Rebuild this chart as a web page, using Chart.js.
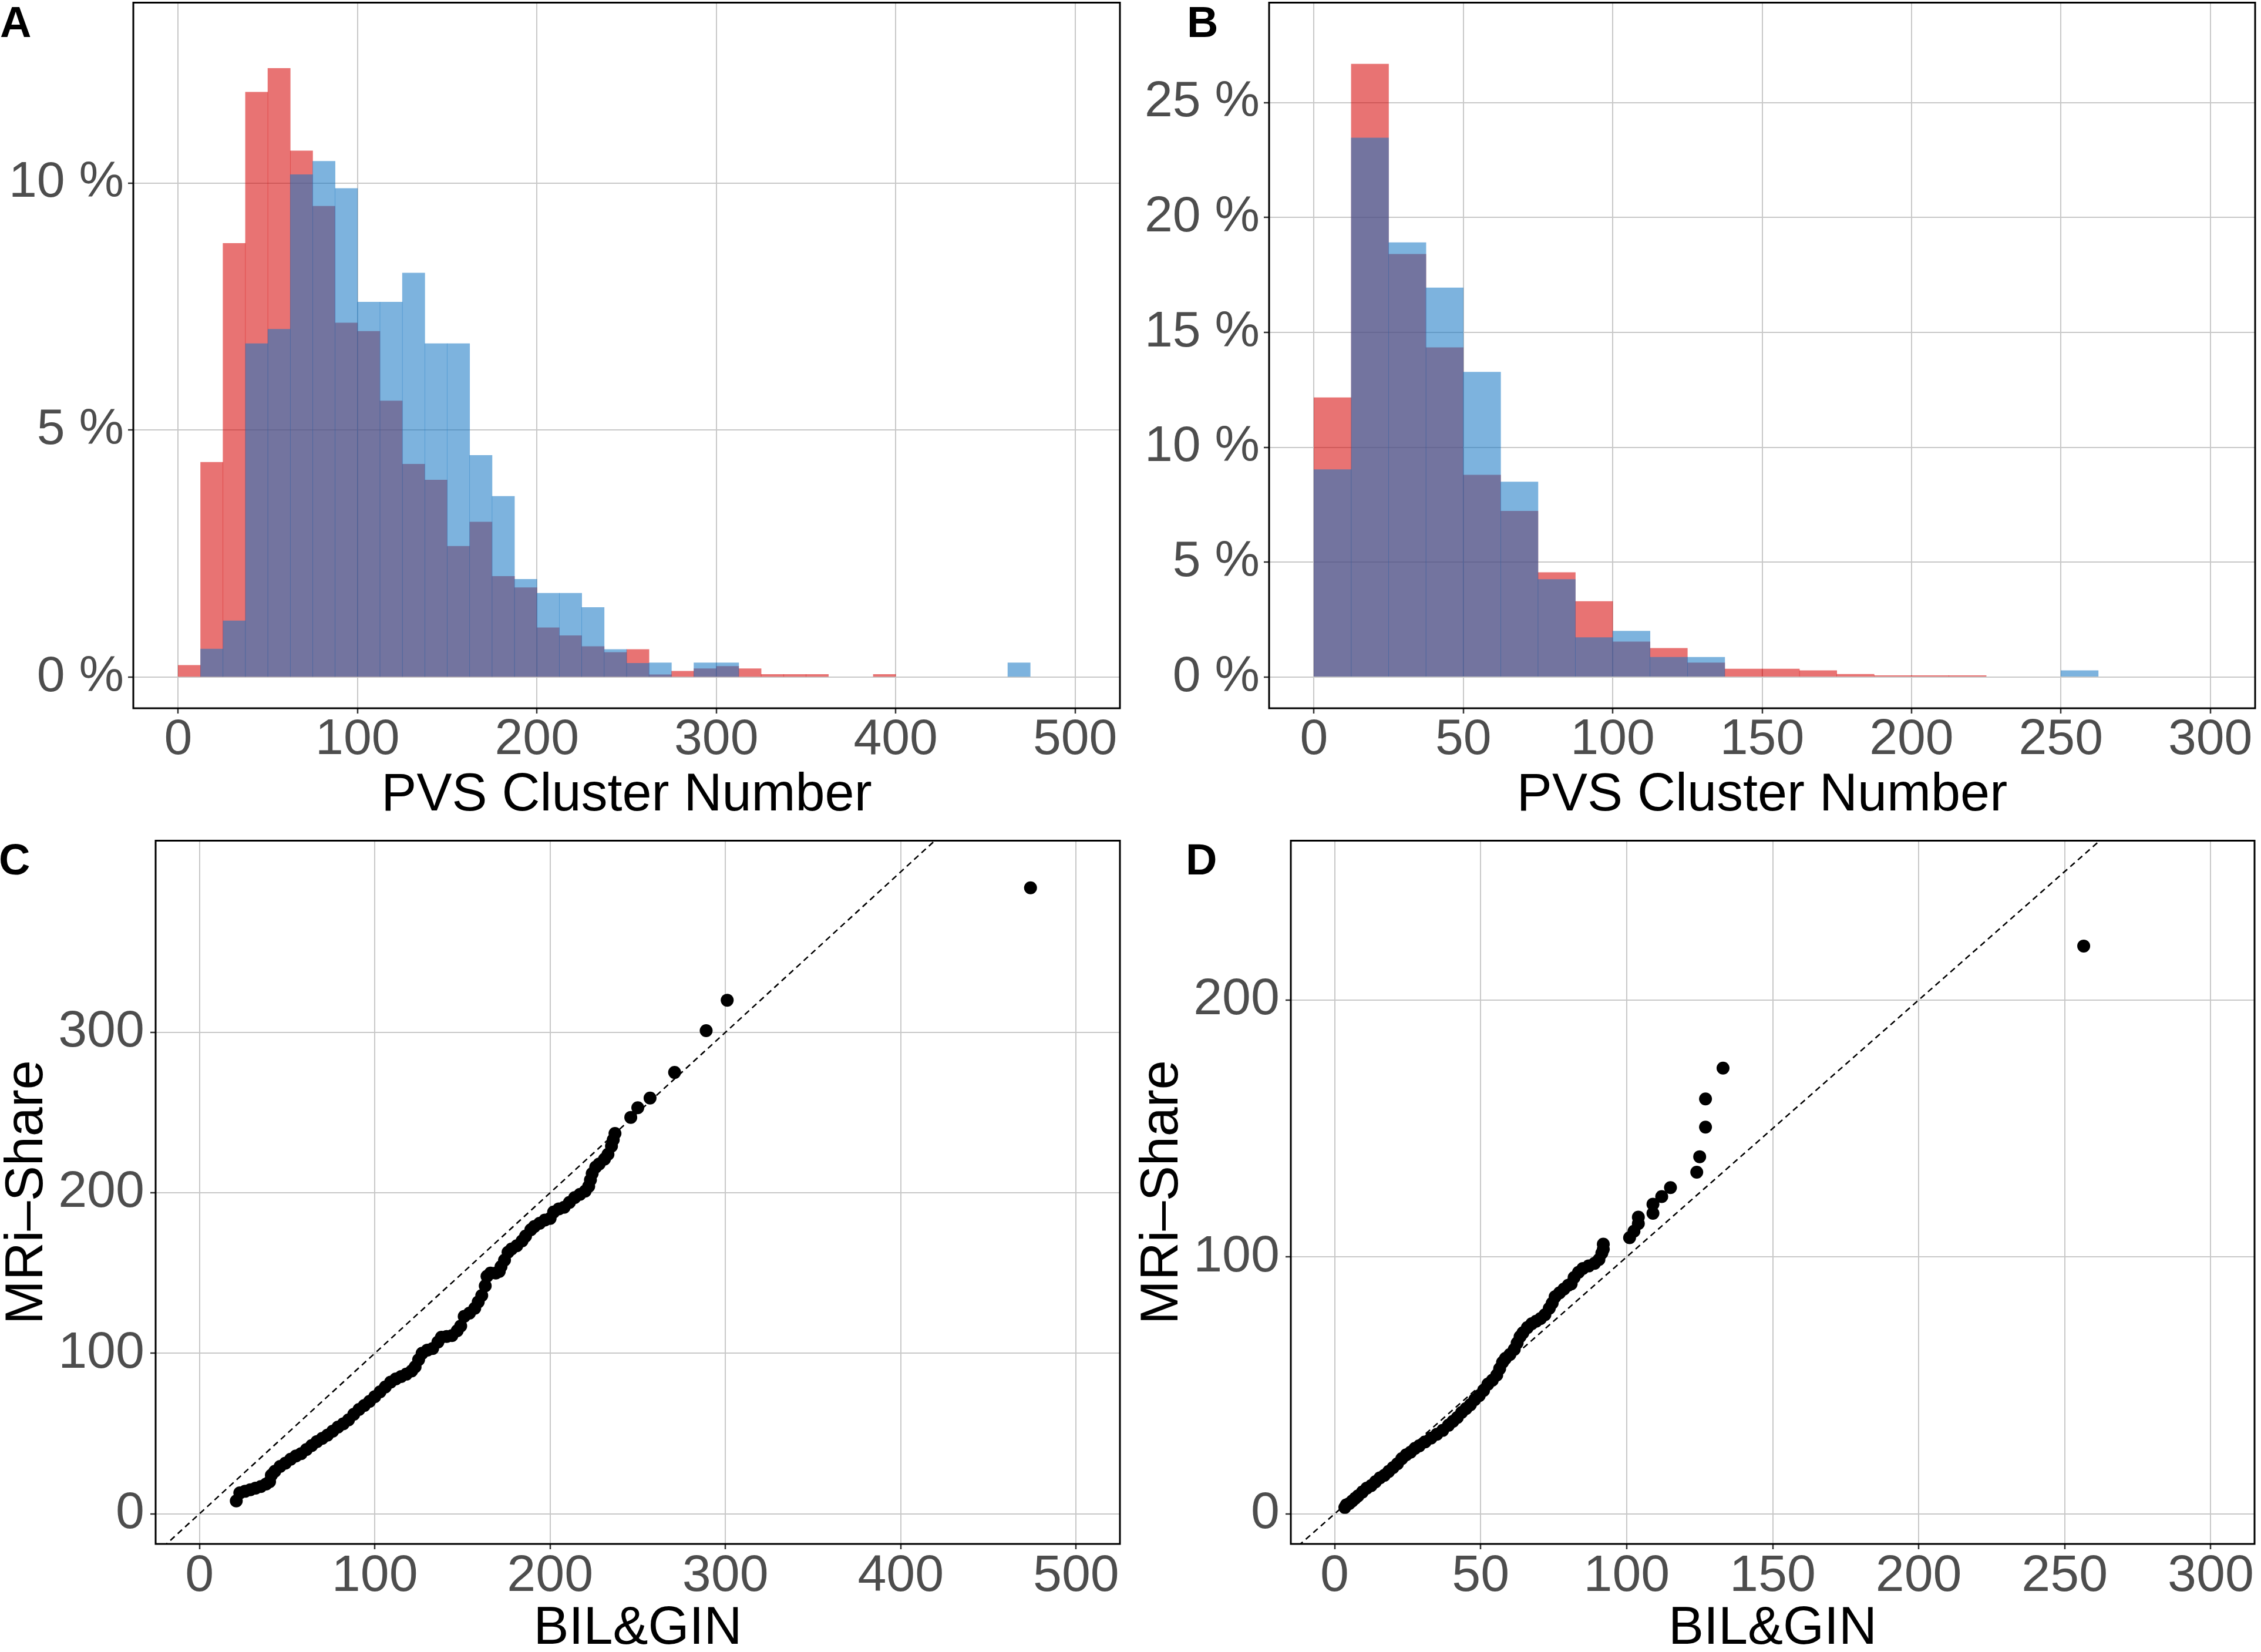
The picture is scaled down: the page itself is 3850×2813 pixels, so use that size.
<!DOCTYPE html>
<html>
<head>
<meta charset="utf-8">
<title>PVS cluster number distributions</title>
<script src="https://cdn.jsdelivr.net/npm/chart.js@4.4.1/dist/chart.umd.min.js"></script>
<style>
  html, body { margin: 0; padding: 0; background: #fff; }
  body { width: 3850px; height: 2813px; position: relative; overflow: hidden; font-family: 'Liberation Sans', Arial, sans-serif; }
  .panel { position: absolute; }
  .panel canvas { display: block; }
  .tag { position: absolute; font-weight: bold; font-size: 74px; line-height: 1; color: #000; }
</style>
</head>
<body>

<div class="tag" style="left:0px;top:1px">A</div>
<div class="tag" style="left:2021px;top:1px">B</div>
<div class="tag" style="left:-2px;top:1427px">C</div>
<div class="tag" style="left:2019px;top:1427px">D</div>

<div class="panel" style="left:0;top:0"><canvas id="histA" width="1925" height="1395"></canvas></div>
<div class="panel" style="left:1925px;top:0"><canvas id="histB" width="1925" height="1395"></canvas></div>
<div class="panel" style="left:0;top:1400px"><canvas id="qqC" width="1925" height="1413"></canvas></div>
<div class="panel" style="left:1925px;top:1400px"><canvas id="qqD" width="1925" height="1413"></canvas></div>

<script>
// bin width of the histograms (PVS cluster number)
const BIN = 12.5;

// Panel A - bin left edges and percentages
const binsA = [0, 12.5, 25, 37.5, 50, 62.5, 75, 87.5, 100, 112.5, 125, 137.5, 150, 162.5, 175, 187.5,
  200, 212.5, 225, 237.5, 250, 262.5, 275, 287.5, 300, 312.5, 325, 337.5, 350, 362.5, 375, 387.5,
  400, 412.5, 425, 437.5, 450, 462.5];
const redA = [0.24, 4.35, 8.78, 11.84, 12.32, 10.65, 9.53, 7.17, 7.00, 5.59, 4.31, 3.99, 2.65, 3.14, 2.04, 1.81,
  1.00, 0.84, 0.62, 0.50, 0.56, 0.05, 0.12, 0.17, 0.22, 0.17, 0.055, 0.055, 0.055, 0, 0, 0.055,
  0, 0, 0, 0, 0, 0];
const blueA = [0, 0.57, 1.14, 6.75, 7.04, 10.17, 10.44, 9.89, 7.59, 7.59, 8.18, 6.75, 6.75, 4.49, 3.66, 1.98,
  1.70, 1.70, 1.41, 0.56, 0.28, 0.29, 0, 0.29, 0.29, 0, 0, 0, 0, 0, 0, 0,
  0, 0, 0, 0, 0, 0.29];

// Panel B
const binsB = [0, 12.5, 25, 37.5, 50, 62.5, 75, 87.5, 100, 112.5, 125, 137.5, 150, 162.5, 175, 187.5,
  200, 212.5, 225, 237.5, 250];
const redB = [12.16, 26.68, 18.40, 14.34, 8.79, 7.22, 4.55, 3.29, 1.53, 1.25, 0.62, 0.35, 0.35, 0.28, 0.12, 0.06,
  0.06, 0.06, 0, 0, 0];
const blueB = [9.03, 23.46, 18.91, 16.94, 13.27, 8.49, 4.25, 1.72, 2.00, 0.86, 0.86, 0, 0, 0, 0, 0,
  0, 0, 0, 0, 0.28];

// Panel C - Q-Q points (BIL&GIN vs MRi-Share)
const bilginC = [21, 23, 26, 29, 32, 35, 38, 40, 41, 43, 46, 49, 52, 55, 58, 61, 64, 67, 70, 73, 76, 79, 82, 85, 88,
  91, 94, 97, 100, 103, 106, 109, 112, 115, 118, 121, 123, 125, 127, 130, 133, 136, 138, 141, 144, 147, 149, 151,
  154, 157, 159, 161, 163, 164, 166, 169, 171, 172, 174, 176, 178, 181, 184, 186, 189, 191, 194, 197, 200, 202,
  205, 208, 211, 214, 217, 220, 222, 223, 224, 226, 228, 231, 233, 235, 236, 237, 246, 250, 257, 271, 289, 301, 474];
const mrishareC = [8, 13, 14, 15, 16, 17, 18.5, 20, 24, 26.5, 29.5, 31.5, 34, 36, 37.5, 40, 42.5, 45, 47, 49, 51.5, 54, 56, 58.5, 62,
  65, 67.5, 70, 73, 76, 79, 82, 84, 85.5, 87, 89, 91.5, 96, 100, 102, 103, 107, 110, 110.5, 111, 114, 117, 123,
  125, 128, 132, 136, 142, 148, 150, 150, 151, 154, 158, 163, 165, 167, 170, 173, 177, 179, 181, 183, 184, 188,
  190, 191, 194, 197, 199, 201, 204, 208, 212, 216, 218, 221, 224, 229, 233, 237, 247, 253, 259, 275, 301, 320, 390];

// Panel D
const bilginD = [3.5, 4, 5, 6, 7, 8, 9.5, 11, 12.5, 14, 15.5, 17, 18.5, 20, 21.5, 23, 24.5, 26, 27.5, 29, 31, 33, 35, 37,
  39, 40.5, 42, 43.5, 45, 46.5, 48, 49.5, 51, 52.5, 54, 55.5, 56.5, 57.5, 58.5, 60, 61.5, 62.5, 63.5, 64.5, 66, 67.5,
  69, 70.5, 72, 73.5, 74.5, 75.5, 77, 78.5, 80, 81, 82, 83.5, 85, 87, 89, 90.5, 91.5, 92, 92, 101, 102.5, 104, 104,
  109, 109, 112, 115, 124, 125, 127, 127, 133, 256.5];
const mrishareD = [2.5, 3.5, 4, 5, 6, 7, 8.5, 10, 11, 12.5, 14, 15, 16.5, 18, 19.5, 21.5, 23, 24, 25.5, 26.5, 28, 29.5, 31, 32.5,
  34.5, 36, 37.5, 39.5, 41, 42.5, 44.5, 46, 48, 50.5, 52, 54, 56.5, 59, 60.5, 62, 64, 66.5, 69, 70.5, 72.5, 74,
  75, 76, 77.5, 80, 82, 84.5, 86, 87.5, 89, 89.5, 92, 94, 95.5, 96.5, 97.5, 99, 101.5, 103, 105, 107.5, 110, 113, 115.5,
  117, 120.5, 123.5, 127, 133, 139, 150.5, 161.5, 173.5, 221];

// tick positions
const xTicksA = [0, 100, 200, 300, 400, 500];
const yTicksA = [0, 5, 10];
const xTicksB = [0, 50, 100, 150, 200, 250, 300];
const yTicksB = [0, 5, 10, 15, 20, 25];
const xTicksC = [0, 100, 200, 300, 400, 500];
const yTicksC = [0, 100, 200, 300];
const xTicksD = [0, 50, 100, 150, 200, 250, 300];
const yTicksD = [0, 100, 200];

const RED = 'rgba(213, 0, 0, 0.55)';
const BLUE = 'rgba(19, 117, 195, 0.55)';

Chart.defaults.font.family = "'Liberation Sans', Arial, Helvetica, sans-serif";
Chart.defaults.animation = false;

// black frame around the panel
const panelBox = {
  id: 'panelBox',
  afterDraw(chart) {
    const { ctx, chartArea: a } = chart;
    ctx.save();
    ctx.strokeStyle = '#000';
    ctx.lineWidth = 3;
    ctx.strokeRect(a.left, a.top, a.right - a.left, a.bottom - a.top);
    ctx.restore();
  }
};

function axis(o) {
  return {
    type: 'linear',
    min: o.min,
    max: o.max,
    offset: false,
    afterBuildTicks: s => { s.ticks = o.ticks.map(v => ({ value: v })); },
    afterFit: s => {
      // fixed axis size, and no extra room for overhanging labels
      if (s.isHorizontal()) s.height = o.size; else s.width = o.size;
      s.paddingTop = 0; s.paddingBottom = 0; s.paddingLeft = 0; s.paddingRight = 0;
    },
    grid: {
      color: '#C8C8C8', lineWidth: 2, offset: false,
      drawTicks: true, tickLength: 9, tickColor: '#333333', tickWidth: 2.5
    },
    border: { display: false },
    ticks: {
      color: '#4D4D4D',
      font: { size: o.fontSize, lineHeight: 0.9 },
      padding: o.pad,
      maxRotation: 0,
      autoSkip: false,
      callback: o.fmt || (v => String(v))
    },
    title: {
      display: !!o.title,
      text: o.title || '',
      color: '#000',
      font: { size: 90, lineHeight: 1 },
      padding: o.titlePad || 0
    }
  };
}

function toBars(bins, vals) {
  return bins.map((b, i) => ({ x: b + BIN / 2, y: vals[i] > 0 ? vals[i] : null }));
}

function toPoints(xs, ys) {
  return xs.map((x, i) => ({ x: x, y: ys[i] }));
}

function histogram(id, bins, red, blue, box, xAx, yAx) {
  const barStyle = { barPercentage: 1, categoryPercentage: 1, grouped: false, borderWidth: 0 };
  return new Chart(document.getElementById(id), {
    type: 'bar',
    data: {
      datasets: [
        Object.assign({ label: 'BIL&GIN', data: toBars(bins, blue), backgroundColor: BLUE }, barStyle),
        Object.assign({ label: 'MRi-Share', data: toBars(bins, red), backgroundColor: RED }, barStyle)
      ]
    },
    options: {
      responsive: false,
      devicePixelRatio: 1,
      layout: { padding: box },
      plugins: { legend: { display: false }, tooltip: { enabled: false } },
      scales: { x: axis(xAx), y: axis(yAx) }
    },
    plugins: [panelBox]
  });
}

function qqplot(id, xs, ys, box, xAx, yAx) {
  const lo = Math.min(xAx.min, yAx.min), hi = Math.max(xAx.max, yAx.max);
  return new Chart(document.getElementById(id), {
    type: 'scatter',
    data: {
      datasets: [
        {
          label: 'y = x',
          data: [{ x: lo, y: lo }, { x: hi, y: hi }],
          showLine: true,
          borderColor: '#000',
          borderWidth: 2.5,
          borderDash: [10, 7],
          pointRadius: 0
        },
        {
          label: 'quantiles',
          data: toPoints(xs, ys),
          backgroundColor: '#000',
          borderWidth: 0,
          pointRadius: 11
        }
      ]
    },
    options: {
      responsive: false,
      devicePixelRatio: 1,
      layout: { padding: box },
      plugins: { legend: { display: false }, tooltip: { enabled: false } },
      scales: { x: axis(xAx), y: axis(yAx) }
    },
    plugins: [panelBox]
  });
}

const pct = v => v + ' %';

histogram('histA', binsA, redA, blueA,
  { top: 4.5, right: 18, left: 0, bottom: 0 },
  { min: -25, max: 525, ticks: xTicksA, size: 189, fontSize: 86, pad: 7, title: 'PVS Cluster Number', titlePad: { top: 0, bottom: -5 } },
  { min: -0.63, max: 13.65, ticks: yTicksA, size: 227, fontSize: 86, pad: 7, fmt: pct });

histogram('histB', binsB, redB, blueB,
  { top: 4.5, right: 10, left: 0, bottom: 0 },
  { min: -15, max: 315, ticks: xTicksB, size: 189, fontSize: 86, pad: 7, title: 'PVS Cluster Number', titlePad: { top: 0, bottom: -5 } },
  { min: -1.36, max: 29.35, ticks: yTicksB, size: 236, fontSize: 86, pad: 7, fmt: pct });

qqplot('qqC', bilginC, mrishareC,
  { top: 31.5, right: 18, left: 0, bottom: 0 },
  { min: -25, max: 525, ticks: xTicksC, size: 184, fontSize: 88, pad: 7, title: 'BIL&GIN', titlePad: { top: 0, bottom: -6 } },
  { min: -18.8, max: 419.4, ticks: yTicksC, size: 265, fontSize: 88, pad: 10, title: 'MRi–Share', titlePad: { top: 2, bottom: 0 } });

qqplot('qqD', bilginD, mrishareD,
  { top: 31.5, right: 10, left: 0, bottom: 0 },
  { min: -15, max: 315, ticks: xTicksD, size: 184, fontSize: 88, pad: 7, title: 'BIL&GIN', titlePad: { top: 0, bottom: -6 } },
  { min: -11.7, max: 262, ticks: yTicksD, size: 273, fontSize: 88, pad: 10, title: 'MRi–Share', titlePad: { top: 10, bottom: 0 } });
</script>
</body>
</html>
